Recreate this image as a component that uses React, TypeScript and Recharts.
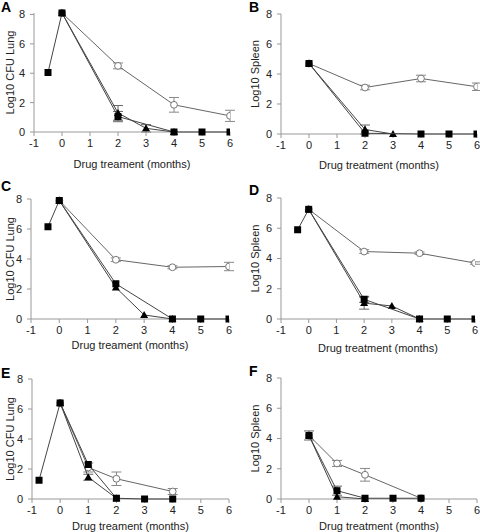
import React from "react";
import {
  ScatterChart,
  Scatter,
  XAxis,
  YAxis,
  ErrorBar,
  Label,
} from "recharts";

type Pt = { x: number; y: number; err?: number };

const xTicks = [-1, 0, 1, 2, 3, 4, 5, 6];
const yTicks = [0, 1, 2, 3, 4, 5, 6, 7, 8];

// Panel A - lung
const aSquare: Pt[] = [
  { x: -0.5, y: 4.05 },
  { x: 0, y: 8.1 },
  { x: 2, y: 1.05, err: 0.35 },
  { x: 4, y: 0 },
  { x: 5, y: 0 },
  { x: 6, y: 0 },
];
const aTriangle: Pt[] = [
  { x: 0, y: 8.1 },
  { x: 2, y: 1.3, err: 0.5 },
  { x: 3, y: 0.25, err: 0.25 },
  { x: 4, y: 0 },
];
const aCircle: Pt[] = [
  { x: 0, y: 8.1 },
  { x: 2, y: 4.5, err: 0.2 },
  { x: 4, y: 1.85, err: 0.5 },
  { x: 6, y: 1.1, err: 0.38 },
];

// Panel B - spleen
const bSquare: Pt[] = [
  { x: 0, y: 4.7 },
  { x: 2, y: 0.05 },
  { x: 4, y: 0 },
  { x: 5, y: 0 },
  { x: 6, y: 0 },
];
const bTriangle: Pt[] = [
  { x: 0, y: 4.7 },
  { x: 2, y: 0.3, err: 0.3 },
  { x: 3, y: 0 },
];
const bCircle: Pt[] = [
  { x: 0, y: 4.7 },
  { x: 2, y: 3.1, err: 0.15 },
  { x: 4, y: 3.7, err: 0.22 },
  { x: 6, y: 3.15, err: 0.25 },
];

// Panel C - lung
const cSquare: Pt[] = [
  { x: -0.4, y: 6.15 },
  { x: 0, y: 7.9 },
  { x: 2, y: 2.35 },
  { x: 4, y: 0 },
  { x: 5, y: 0 },
  { x: 6, y: 0 },
];
const cTriangle: Pt[] = [
  { x: 0, y: 7.9 },
  { x: 2, y: 2.1 },
  { x: 3, y: 0.27 },
  { x: 4, y: 0 },
];
const cCircle: Pt[] = [
  { x: 0, y: 7.9 },
  { x: 2, y: 3.95, err: 0.12 },
  { x: 4, y: 3.45, err: 0.1 },
  { x: 6, y: 3.5, err: 0.28 },
];

// Panel D - spleen
const dSquare: Pt[] = [
  { x: -0.4, y: 5.9 },
  { x: 0, y: 7.25 },
  { x: 2, y: 1.3, err: 0.2 },
  { x: 4, y: 0 },
  { x: 5, y: 0 },
  { x: 6, y: 0 },
];
const dTriangle: Pt[] = [
  { x: 0, y: 7.25 },
  { x: 2, y: 1.05, err: 0.4 },
  { x: 3, y: 0.86 },
  { x: 4, y: 0 },
];
const dCircle: Pt[] = [
  { x: 0, y: 7.25 },
  { x: 2, y: 4.46, err: 0.12 },
  { x: 4, y: 4.35, err: 0.08 },
  { x: 6, y: 3.7, err: 0.08 },
];

// Panel E - lung
const eSquare: Pt[] = [
  { x: -0.75, y: 1.25 },
  { x: 0, y: 6.4 },
  { x: 1, y: 2.3 },
  { x: 2, y: 0.05 },
  { x: 3, y: 0 },
  { x: 4, y: 0 },
];
const eTriangle: Pt[] = [
  { x: 0, y: 6.4 },
  { x: 1, y: 1.45, err: 0.2 },
  { x: 2, y: 0.05 },
];
const eCircle: Pt[] = [
  { x: 0, y: 6.4 },
  { x: 1, y: 2.1, err: 0.3 },
  { x: 2, y: 1.35, err: 0.45 },
  { x: 4, y: 0.5, err: 0.2 },
];

// Panel F - spleen
const fSquare: Pt[] = [
  { x: 0, y: 4.2, err: 0.3 },
  { x: 1, y: 0.55, err: 0.3 },
  { x: 2, y: 0.05 },
  { x: 3, y: 0.05 },
  { x: 4, y: 0.05 },
];
const fTriangle: Pt[] = [
  { x: 0, y: 4.2 },
  { x: 1, y: 0.15 },
  { x: 2, y: 0 },
];
const fCircle: Pt[] = [
  { x: 0, y: 4.2 },
  { x: 1, y: 2.35, err: 0.2 },
  { x: 2, y: 1.6, err: 0.42 },
  { x: 4, y: 0.05 },
];

const FONT = "'Liberation Sans', Arial, sans-serif";
const TEXT = "#222";
const AXIS = "#999";
const LINE = "#444";

const squareShape = (p: any) => (
  <rect x={p.cx - 3.5} y={p.cy - 3.5} width={7} height={7} fill="#000" />
);
const triangleShape = (p: any) => (
  <polygon
    points={`${p.cx},${p.cy - 4} ${p.cx - 4},${p.cy + 3} ${p.cx + 4},${p.cy + 3}`}
    fill="#000"
  />
);
const circleShape = (p: any) => (
  <circle cx={p.cx} cy={p.cy} r={3.4} fill="#fff" stroke="#777" strokeWidth={1} />
);

interface PanelProps {
  letter: string;
  yTitle: string;
  xTitle: string;
  left: number;
  top: number;
  axisX: number;
  plotRight: number;
  plotH: number;
  titleDy: number;
  yTitleX: number;
  letterX: number;
  letterY: number;
  square: Pt[];
  triangle: Pt[];
  circle: Pt[];
}

function Panel(props: PanelProps) {
  const W = 240;
  const H = 175;
  const marginTop = 13;
  const xAxisH = 30;
  const marginBottom = H - marginTop - props.plotH - xAxisH;
  return (
    <div style={{ position: "absolute", left: props.left, top: props.top, width: W, height: H }}>
      <ScatterChart
        width={W}
        height={H}
        margin={{ top: marginTop, right: W - props.plotRight, left: 0, bottom: marginBottom }}
      >
        <XAxis
          type="number"
          dataKey="x"
          domain={[-1, 6]}
          ticks={xTicks}
          allowDataOverflow
          height={xAxisH}
          stroke={AXIS}
          tickSize={4}
          tickMargin={3}
          tick={{ fontSize: 11, fill: TEXT, fontFamily: FONT }}
        >
          <Label
            content={({ viewBox }: any) => (
              <text
                x={viewBox.x + viewBox.width / 2}
                y={viewBox.y + props.titleDy}
                textAnchor="middle"
                dominantBaseline="central"
                fontSize={11}
                fontFamily={FONT}
                fill={TEXT}
              >
                {props.xTitle}
              </text>
            )}
          />
        </XAxis>
        <YAxis
          type="number"
          dataKey="y"
          domain={[0, 8]}
          ticks={yTicks}
          width={props.axisX}
          stroke={AXIS}
          tickSize={4}
          tickMargin={5}
          tick={{ fontSize: 11, fill: TEXT, fontFamily: FONT }}
        >
          <Label
            content={({ viewBox }: any) => {
              const cy = viewBox.y + viewBox.height / 2;
              return (
                <text
                  x={props.yTitleX}
                  y={cy}
                  transform={`rotate(-90, ${props.yTitleX}, ${cy})`}
                  textAnchor="middle"
                  dominantBaseline="central"
                  fontSize={11}
                  fontFamily={FONT}
                  fill={TEXT}
                >
                  {props.yTitle}
                </text>
              );
            }}
          />
        </YAxis>
        <Scatter
          data={props.circle}
          line={{ stroke: "#666", strokeWidth: 1 }}
          shape={circleShape}
          isAnimationActive={false}
        >
          <ErrorBar dataKey="err" direction="y" width={5} stroke="#888" strokeWidth={1} />
        </Scatter>
        <Scatter
          data={props.triangle}
          line={{ stroke: LINE, strokeWidth: 1 }}
          shape={triangleShape}
          isAnimationActive={false}
        >
          <ErrorBar dataKey="err" direction="y" width={5} stroke="#666" strokeWidth={1} />
        </Scatter>
        <Scatter
          data={props.square}
          line={{ stroke: LINE, strokeWidth: 1 }}
          shape={squareShape}
          isAnimationActive={false}
        >
          <ErrorBar dataKey="err" direction="y" width={5} stroke="#666" strokeWidth={1} />
        </Scatter>
      </ScatterChart>
      <div
        style={{
          position: "absolute",
          left: props.letterX,
          top: props.letterY,
          fontFamily: FONT,
          fontWeight: "bold",
          fontSize: 14,
          lineHeight: "14px",
          color: "#000",
        }}
      >
        {props.letter}
      </div>
    </div>
  );
}

export default function App() {
  return (
    <div
      style={{
        position: "fixed",
        left: 0,
        top: 0,
        width: 480,
        height: 532,
        overflow: "hidden",
        background: "#fff",
      }}
    >
      <Panel
        letter="A"
        yTitle="Log10 CFU Lung"
        xTitle="Drug treament (months)"
        left={0}
        top={0}
        axisX={34}
        plotRight={230}
        plotH={119}
        titleDy={32}
        yTitleX={10}
        letterX={1}
        letterY={0}
        square={aSquare}
        triangle={aTriangle}
        circle={aCircle}
      />
      <Panel
        letter="B"
        yTitle="Log10 Spleen"
        xTitle="Drug treatment (months)"
        left={240}
        top={1}
        axisX={41}
        plotRight={237}
        plotH={120}
        titleDy={31}
        yTitleX={15}
        letterX={9}
        letterY={-1}
        square={bSquare}
        triangle={bTriangle}
        circle={bCircle}
      />
      <Panel
        letter="C"
        yTitle="Log10 CFU Lung"
        xTitle="Drug treament (months)"
        left={0}
        top={186}
        axisX={31}
        plotRight={229}
        plotH={120}
        titleDy={26}
        yTitleX={10}
        letterX={1}
        letterY={-7}
        square={cSquare}
        triangle={cTriangle}
        circle={cCircle}
      />
      <Panel
        letter="D"
        yTitle="Log10 Spleen"
        xTitle="Drug treatment (months)"
        left={240}
        top={185}
        axisX={41}
        plotRight={235}
        plotH={121}
        titleDy={29}
        yTitleX={15}
        letterX={9}
        letterY={-2}
        square={dSquare}
        triangle={dTriangle}
        circle={dCircle}
      />
      <Panel
        letter="E"
        yTitle="Log10 CFU Lung"
        xTitle="Drug treament (months)"
        left={0}
        top={366}
        axisX={32}
        plotRight={229}
        plotH={120}
        titleDy={27}
        yTitleX={10}
        letterX={1}
        letterY={0}
        square={eSquare}
        triangle={eTriangle}
        circle={eCircle}
      />
      <Panel
        letter="F"
        yTitle="Log10 Spleen"
        xTitle="Drug treatment (months)"
        left={240}
        top={365}
        axisX={41}
        plotRight={237}
        plotH={121}
        titleDy={27}
        yTitleX={15}
        letterX={9}
        letterY={-1}
        square={fSquare}
        triangle={fTriangle}
        circle={fCircle}
      />
    </div>
  );
}
